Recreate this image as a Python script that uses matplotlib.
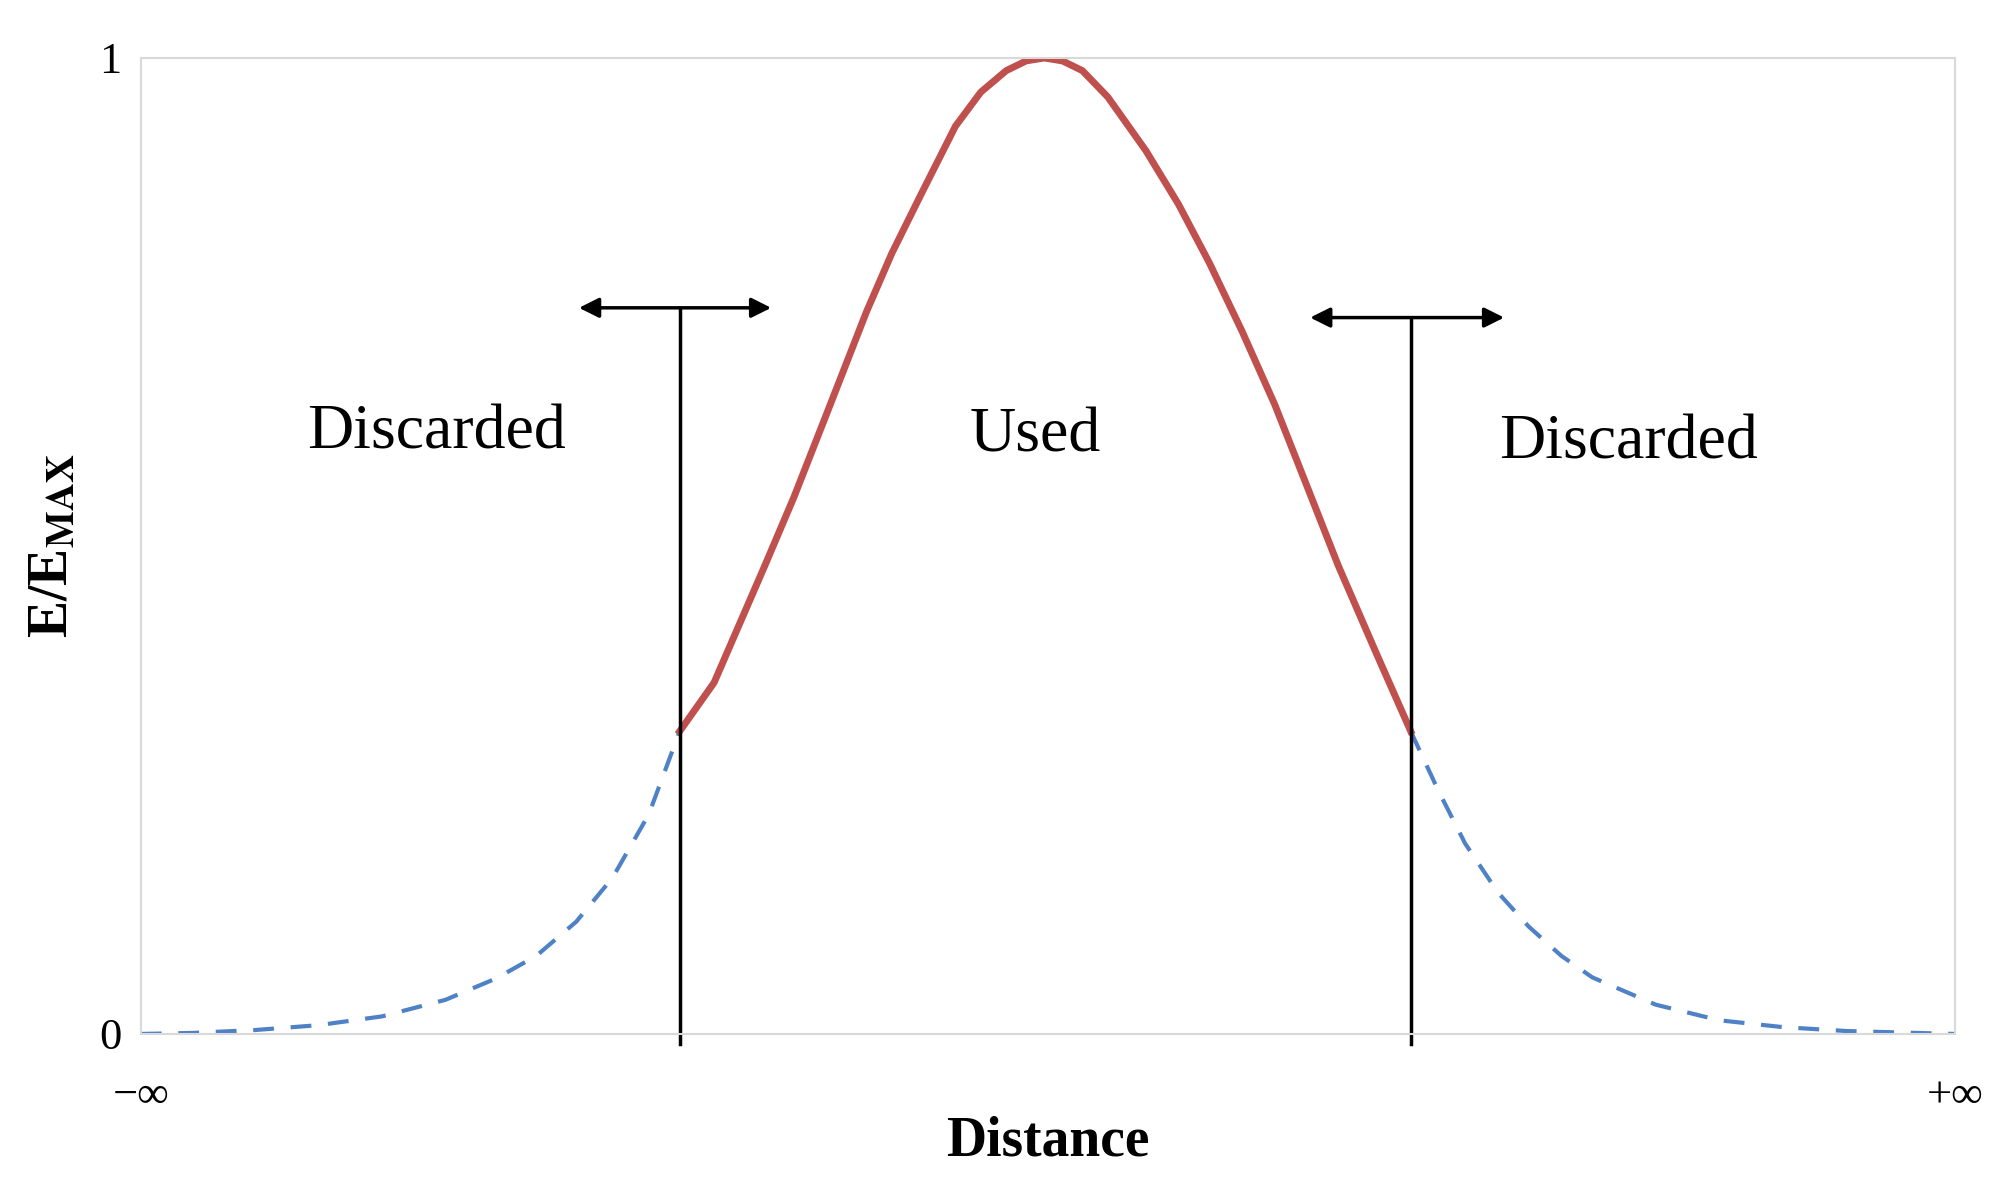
import numpy as np
import matplotlib.pyplot as plt

plt.rcParams['font.family'] = ['Liberation Serif', 'DejaVu Serif']
plt.rcParams['mathtext.fontset'] = 'stix'

# curve (distance in arbitrary units 0..100)
x_left = [0, 2.8, 6.3, 9.8, 13.3, 16.8, 19.6, 21.8, 24.0, 26.0, 28.0, 29.7]
y_left = [0.0, 0.001, 0.004, 0.009, 0.018, 0.035, 0.057, 0.08, 0.115, 0.16, 0.225, 0.31]
x_mid = [29.7, 31.6, 33.0, 34.4, 36.0, 37.9, 40.0, 41.4, 43.0, 44.9, 46.3, 47.7, 48.8,
         49.8, 50.8, 51.9, 53.3, 55.4, 57.2, 58.9, 60.7, 62.5, 64.2, 66.0, 68.1, 70.0]
y_mid = [0.31, 0.36, 0.42, 0.48, 0.55, 0.64, 0.74, 0.80, 0.86, 0.93, 0.965, 0.987, 0.997,
         1.0, 0.997, 0.987, 0.96, 0.905, 0.85, 0.79, 0.72, 0.645, 0.565, 0.48, 0.39, 0.31]
x_right = [70.0, 71.5, 73.0, 74.8, 76.5, 78.3, 80.0, 83.5, 87.0, 90.5, 94.0, 100]
y_right = [0.31, 0.25, 0.195, 0.145, 0.11, 0.08, 0.058, 0.03, 0.014, 0.007, 0.003, 0.0]

cut_left, cut_right = 29.7, 70.0
cut_top = [0.744, 0.734]
arrow_left = [24.0, 34.9]
arrow_right = [64.3, 75.3]

fig = plt.figure(figsize=(19.97, 11.83), dpi=100)
ax = fig.add_axes([0.0705, 0.126, 0.9085, 0.825])

ax.plot(x_left, y_left, '--', color='#4f81c7', lw=3, dashes=(5, 4))
ax.plot(x_right, y_right, '--', color='#4f81c7', lw=3, dashes=(5, 4))
ax.plot(x_mid, y_mid, '-', color='#c0504d', lw=5, solid_joinstyle='round')

for xc, yt, (a0, a1) in [(cut_left, cut_top[0], arrow_left), (cut_right, cut_top[1], arrow_right)]:
    ax.plot([xc, xc], [-0.01, yt], color='black', lw=2.5, clip_on=False)
    ax.annotate('', xy=(a0, yt), xytext=(a1, yt),
                arrowprops=dict(arrowstyle='<|-|>', color='black', lw=2.5, mutation_scale=30))

ax.text(16.3, 0.615, 'Discarded', fontsize=46, ha='center', va='center')
ax.text(49.3, 0.612, 'Used', fontsize=46, ha='center', va='center')
ax.text(82.0, 0.605, 'Discarded', fontsize=46, ha='center', va='center')

ax.set_xlim(0, 100)
ax.set_ylim(0, 1)
ax.set_yticks([0, 1])
ax.set_yticklabels(['0', '1'], fontsize=32)
ax.set_xticks([0, 100])
ax.set_xticklabels(['\u2212\u221e', '+\u221e'], fontsize=32)
ax.tick_params(axis='y', length=0, pad=14)
ax.tick_params(axis='x', length=0, pad=30)
for s in ax.spines.values():
    s.set_color('#d9d9d9')
    s.set_linewidth(1.5)

ax.set_xlabel('Distance', fontsize=40, fontweight='bold', labelpad=0)
ax.set_ylabel(r'E/E$_{\mathbf{MAX}}$', fontsize=40, fontweight='bold', labelpad=14)

fig.savefig('out.png', dpi=100)
